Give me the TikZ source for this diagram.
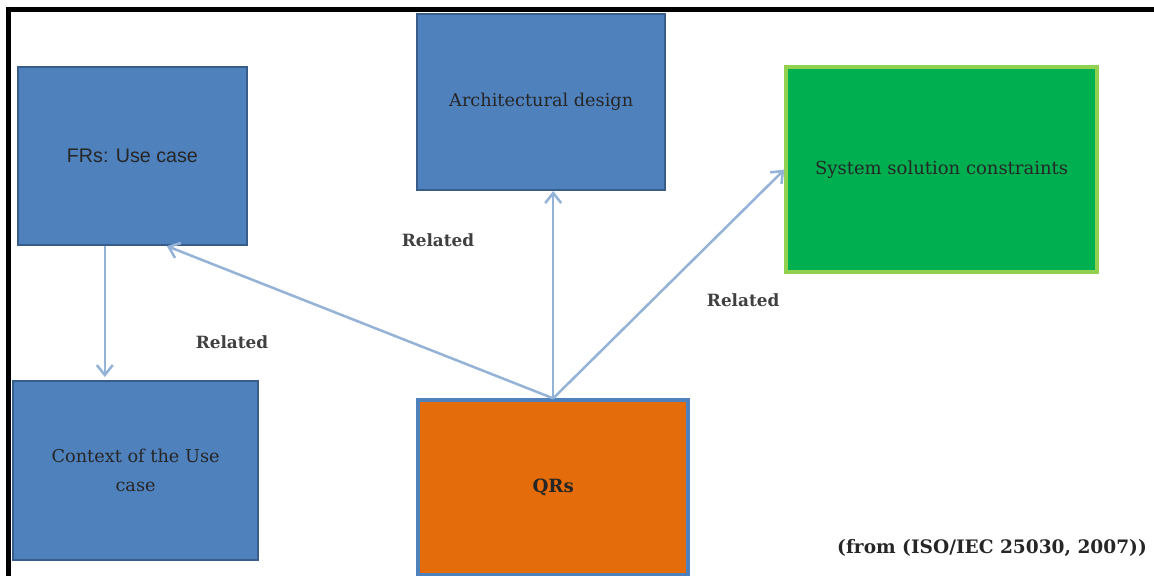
\documentclass[tikz,border=0pt]{standalone}
\usepackage{fontspec}
\setmainfont{DejaVu Serif}
\newfontfamily\frsfont{Liberation Sans}
\usetikzlibrary{arrows.meta}
\definecolor{boxblue}{RGB}{79,129,189}
\definecolor{boxedge}{RGB}{56,93,138}
\definecolor{relblue}{RGB}{149,179,215}
\definecolor{solgreen}{RGB}{0,176,80}
\definecolor{limeedge}{RGB}{146,208,80}
\definecolor{qrorange}{RGB}{228,108,10}

\begin{document}
\begin{tikzpicture}[
    blok/.style={draw=boxedge, line width=1.5pt, fill=boxblue, inner sep=0pt,
        text=black!85, font=\fontsize{12.6}{20.5}\selectfont},
    rel/.style={draw=relblue, line width=1.8pt, -{Straight Barb[length=2.5mm,width=4mm]}},
    related/.style={text=black!75, font=\bfseries\fontsize{12}{14}\selectfont}]
    \path [use as bounding box] (0,0) rectangle (28.85,-14.4);
    % frame
    \draw [line width=0.125cm] (0.2125,-14.4) -- (0.2125,-0.225) -- (28.85,-0.225);
    % boxes
    \node [blok, minimum width=5.725cm, minimum height=4.45cm,
        font=\frsfont\fontsize{14}{17}\selectfont] (frs) at (3.31,-3.9) {FRs: Use case};
    \node [blok, minimum width=6.2cm, minimum height=4.4cm] (arch) at (13.53,-2.55) {Architectural design};
    \node [blok, draw=limeedge, line width=2.5pt, fill=solgreen, minimum width=7.775cm,
        minimum height=5.125cm, font=\fontsize{12.8}{16}\selectfont] (sys) at (23.54,-4.24) {System solution constraints};
    \node [blok, minimum width=6.125cm, minimum height=4.475cm, align=center] (ctx) at (3.39,-11.76) {Context of the Use\\case};
    \node [blok, draw=boxblue, line width=2.5pt, fill=qrorange, minimum width=6.75cm,
        minimum height=4.375cm, font=\bfseries\fontsize{13}{16}\selectfont] (qrs) at (13.83,-12.19) {QRs};
    % labels
    \node [related] (rel1) at (10.95,-6.0) {Related};
    \node [related] (rel2) at (5.8,-8.55) {Related};
    \node [related] (rel3) at (18.58,-7.5) {Related};
    \node [font=\bfseries\fontsize{13.2}{16}\selectfont, text=black!85] (src) at (24.8,-13.7) {(from (ISO/IEC 25030, 2007))};
    % connectors
    \draw [rel, shorten >=2pt] ([xshift=-0.69cm]frs.south) -- ([xshift=-0.69cm]frs.south |- ctx.north);
    \draw [rel] (qrs.north) -- ([xshift=0.86cm]frs.south);
    \draw [rel] (qrs.north) -- (qrs.north |- arch.south);
    \draw [rel] (qrs.north) -- (sys.west);
\end{tikzpicture}
\end{document}
